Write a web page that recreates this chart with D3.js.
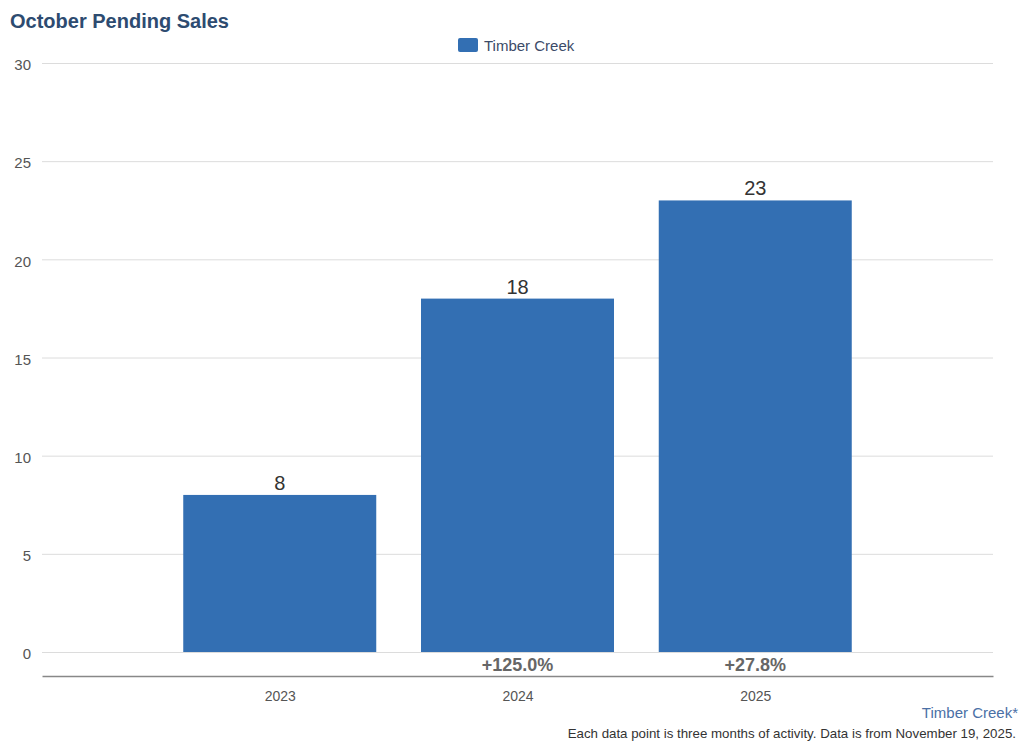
<!DOCTYPE html>
<html>
<head>
<meta charset="utf-8">
<script src="https://cdn.jsdelivr.net/npm/d3@7"></script>
<style>
  body { margin: 0; background: #fff; }
  text { font-family: "Liberation Sans", Arial, Helvetica, sans-serif; }
</style>
</head>
<body>
<div id="chart-area"></div>
<script>
// data
var years = ["2023", "2024", "2025"];
var sales = [8, 18, 23];
var changes = ["", "+125.0%", "+27.8%"];
var yTicks = [0, 5, 10, 15, 20, 25, 30];

var width = 1024, height = 745;
var plotLeft = 42, plotRight = 993, plotTop = 63, plotBottom = 652;

var svg = d3.select("#chart-area").append("svg")
	.attr("width", width)
	.attr("height", height);

var x = d3.scalePoint().domain(years).range([plotLeft, plotRight]).padding(1);
var y = d3.scaleLinear().domain([0, 30]).range([plotBottom, plotTop]);
var barWidth = 193;

// title
svg.append("text")
	.attr("x", 10).attr("y", 28)
	.attr("font-size", 20).attr("font-weight", "bold")
	.attr("fill", "#2d4b70")
	.text("October Pending Sales");

// legend
svg.append("rect")
	.attr("x", 458).attr("y", 38)
	.attr("width", 20).attr("height", 14)
	.attr("rx", 2)
	.attr("fill", "#336fb3");
svg.append("text")
	.attr("x", 484).attr("y", 51)
	.attr("font-size", 15)
	.attr("fill", "#3b4b68")
	.text("Timber Creek");

// gridlines + y labels
var yAxis = d3.axisLeft(y).tickValues(yTicks).tickSize(-(plotRight - plotLeft)).tickPadding(11);
var gy = svg.append("g")
	.attr("transform", "translate(" + plotLeft + ",0)")
	.call(yAxis);
gy.select(".domain").remove();
gy.selectAll(".tick line").attr("stroke", "#dcdcdc");
gy.selectAll(".tick text")
	.attr("font-size", 15)
	.attr("fill", "#555")
	.attr("dy", "0.45em")
	.attr("font-family", "Liberation Sans, Arial, sans-serif");

// bars
svg.selectAll(".bar").data(sales).enter().append("rect")
	.attr("class", "bar")
	.attr("x", (d, i) => x(years[i]) - barWidth / 2)
	.attr("y", (d) => y(d))
	.attr("width", barWidth)
	.attr("height", (d) => y(0) - y(d))
	.attr("fill", "#336fb3");

// value labels
svg.selectAll(".val").data(sales).enter().append("text")
	.attr("class", "val")
	.attr("x", (d, i) => x(years[i]))
	.attr("y", (d) => y(d) - 5)
	.attr("text-anchor", "middle")
	.attr("font-size", 20)
	.attr("fill", "#333")
	.text((d) => d);

// change labels
svg.selectAll(".chg").data(changes).enter().append("text")
	.attr("class", "chg")
	.attr("x", (d, i) => x(years[i]))
	.attr("y", 671)
	.attr("text-anchor", "middle")
	.attr("font-size", 18)
	.attr("font-weight", "bold")
	.attr("fill", "#666")
	.text((d) => d);

// x axis
var xAxis = d3.axisBottom(x).tickSize(0).tickPadding(15);
var gx = svg.append("g")
	.attr("transform", "translate(0,676)")
	.call(xAxis);
gx.select(".domain").attr("stroke", "#888").attr("stroke-width", 1.5);
gx.selectAll(".tick text")
	.attr("font-size", 14)
	.attr("fill", "#555")
	.attr("font-family", "Liberation Sans, Arial, sans-serif");

// footer
svg.append("text")
	.attr("x", 1018).attr("y", 718)
	.attr("text-anchor", "end")
	.attr("font-size", 15)
	.attr("fill", "#4a70a6")
	.text("Timber Creek*");
svg.append("text")
	.attr("x", 1016).attr("y", 738)
	.attr("text-anchor", "end")
	.attr("font-size", 13.3)
	.attr("fill", "#333")
	.text("Each data point is three months of activity. Data is from November 19, 2025.");
</script>
</body>
</html>
